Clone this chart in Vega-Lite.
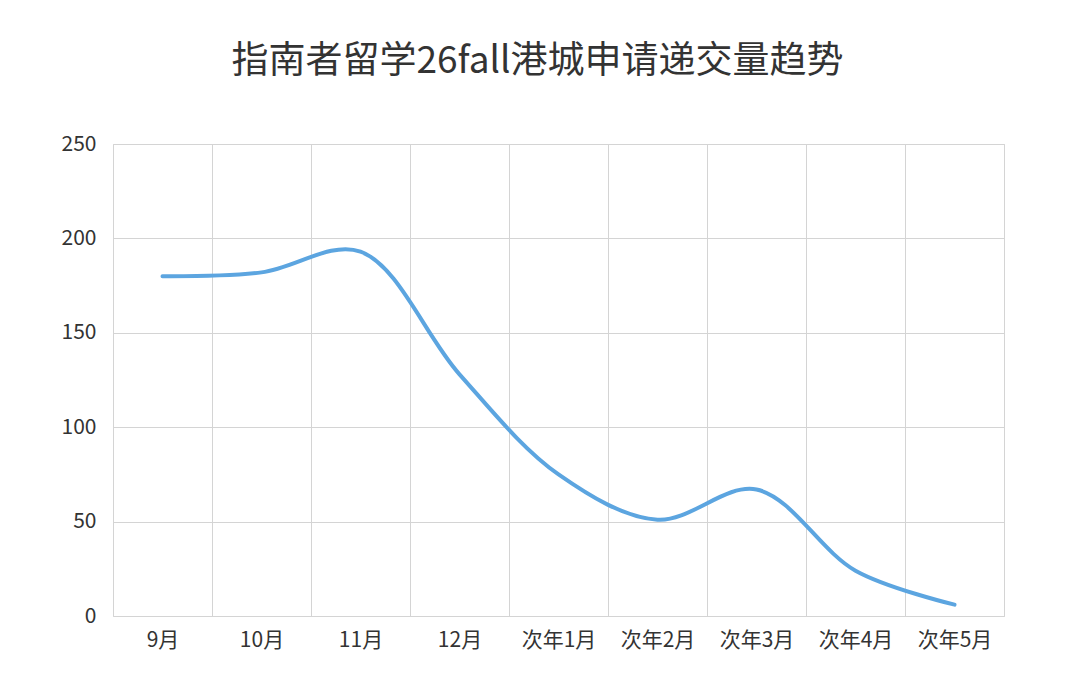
{
  "$schema": "https://vega.github.io/schema/vega-lite/v6.json",
  "autosize": {"type": "none"},
  "width": 891,
  "height": 472,
  "padding": {"left": 113, "top": 144, "right": 76, "bottom": 79},
  "background": "white",
  "title": {
    "text": "指南者留学26fall港城申请递交量趋势",
    "font": "Noto Sans CJK SC",
    "fontSize": 37,
    "fontWeight": "normal",
    "color": "#333333",
    "anchor": "middle",
    "dx": -21,
    "offset": 52
  },
  "data": {
    "values": [
      {"month": "9月", "count": 180},
      {"month": "10月", "count": 182},
      {"month": "11月", "count": 193},
      {"month": "12月", "count": 128},
      {"month": "次年1月", "count": 75},
      {"month": "次年2月", "count": 51},
      {"month": "次年3月", "count": 67},
      {"month": "次年4月", "count": 24},
      {"month": "次年5月", "count": 6}
    ]
  },
  "mark": {
    "type": "line",
    "interpolate": "catmull-rom",
    "color": "#5ca5e0",
    "strokeWidth": 4,
    "strokeCap": "round"
  },
  "encoding": {
    "x": {
      "field": "month",
      "type": "nominal",
      "sort": null,
      "title": null,
      "scale": {"paddingInner": 0, "paddingOuter": 0},
      "axis": {
        "tickBand": "extent",
        "labelAngle": 0,
        "labelFont": "Noto Sans CJK SC",
        "labelFontSize": 21,
        "labelColor": "#333333",
        "labelPadding": 13,
        "ticks": false,
        "domain": false,
        "grid": true,
        "gridColor": "#d4d4d4",
        "gridWidth": 1
      }
    },
    "y": {
      "field": "count",
      "type": "quantitative",
      "title": null,
      "scale": {"domain": [0, 250]},
      "axis": {
        "values": [0, 50, 100, 150, 200, 250],
        "labelFont": "Noto Sans CJK SC",
        "labelFontSize": 21,
        "labelColor": "#333333",
        "labelPadding": 17,
        "ticks": false,
        "domain": false,
        "grid": true,
        "gridColor": "#d4d4d4",
        "gridWidth": 1
      }
    }
  },
  "config": {
    "view": {"stroke": "#d4d4d4", "strokeWidth": 1}
  }
}
